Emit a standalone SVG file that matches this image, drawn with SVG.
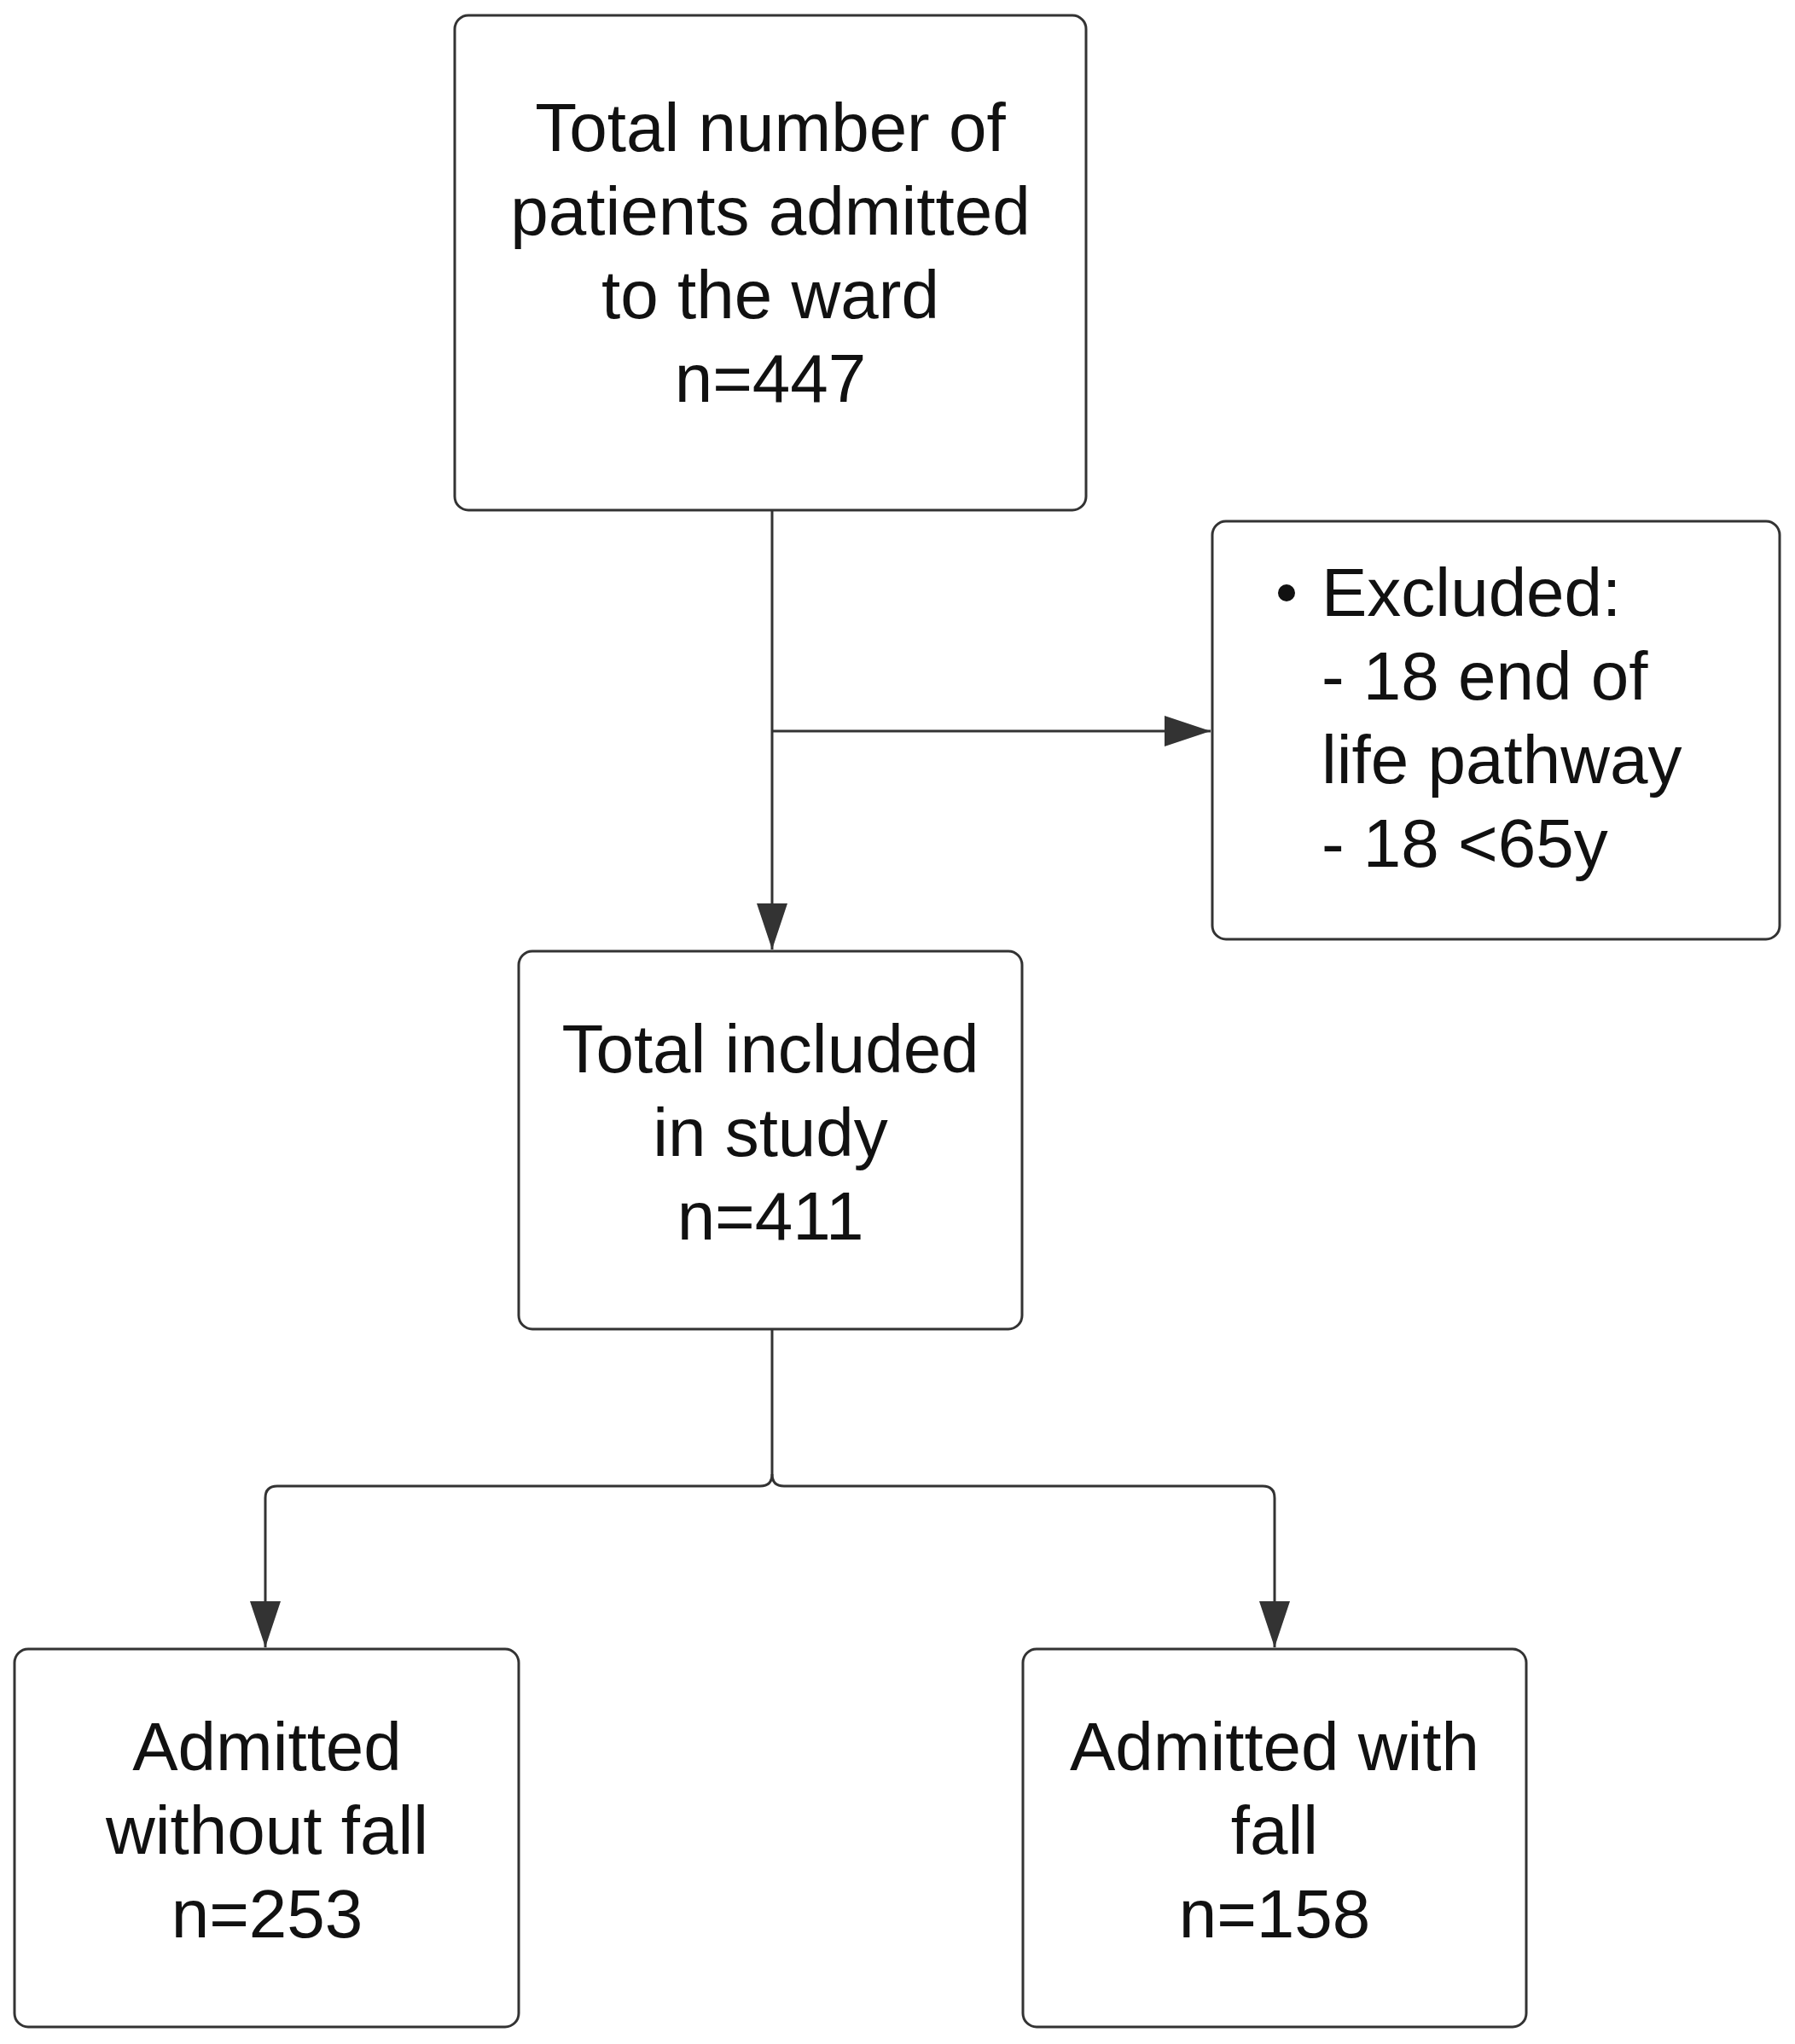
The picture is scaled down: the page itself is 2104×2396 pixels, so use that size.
<svg xmlns="http://www.w3.org/2000/svg" width="2104" height="2396" viewBox="0 0 2104 2396">
<style>
.box{fill:#fff;stroke:#333;stroke-width:3}
.t{font-family:"Liberation Sans",Arial,sans-serif;font-size:80px;fill:#111}
.c{text-anchor:middle}
.conn{fill:none;stroke:#333;stroke-width:3}
</style>
<defs>
<marker id="arr" markerUnits="userSpaceOnUse" markerWidth="56" markerHeight="40" refX="54" refY="18" orient="auto">
<path d="M0,0 L54,18 L0,36 Z" fill="#333"/>
</marker>
</defs>
<rect width="2104" height="2396" fill="#fff"/>
<g id="connectors">
<path class="conn" d="M905 598 V1113" marker-end="url(#arr)"/>
<path class="conn" d="M905 857 H1419" marker-end="url(#arr)"/>
<path class="conn" d="M905 1558 V1728"/>
<path class="conn" d="M905 1728 Q905 1742 891 1742 H325 Q311 1742 311 1756 V1931" marker-end="url(#arr)"/>
<path class="conn" d="M905 1728 Q905 1742 919 1742 H1480 Q1494 1742 1494 1756 V1931" marker-end="url(#arr)"/>
</g>
<g id="node-admitted">
<rect class="box" x="533" y="18" width="740" height="580" rx="16"/>
<text class="t c" x="903" y="177">Total number of</text>
<text class="t c" x="903" y="275">patients admitted</text>
<text class="t c" x="903" y="373">to the ward</text>
<text class="t c" x="903" y="471">n=447</text>
</g>
<g id="node-excluded">
<rect class="box" x="1421" y="611" width="665" height="490" rx="16"/>
<circle cx="1508" cy="695" r="10" fill="#111"/>
<text class="t" x="1549" y="722">Excluded:</text>
<text class="t" x="1549" y="820">- 18 end of</text>
<text class="t" x="1549" y="918">life pathway</text>
<text class="t" x="1549" y="1016">- 18 &lt;65y</text>
</g>
<g id="node-included">
<rect class="box" x="608" y="1115" width="590" height="443" rx="16"/>
<text class="t c" x="903" y="1257">Total included</text>
<text class="t c" x="903" y="1355">in study</text>
<text class="t c" x="903" y="1453">n=411</text>
</g>
<g id="node-nofall">
<rect class="box" x="17" y="1933" width="591" height="443" rx="16"/>
<text class="t c" x="313" y="2075">Admitted</text>
<text class="t c" x="313" y="2173">without fall</text>
<text class="t c" x="313" y="2271">n=253</text>
</g>
<g id="node-fall">
<rect class="box" x="1199" y="1933" width="590" height="443" rx="16"/>
<text class="t c" x="1494" y="2075">Admitted with</text>
<text class="t c" x="1494" y="2173">fall</text>
<text class="t c" x="1494" y="2271">n=158</text>
</g>
</svg>
